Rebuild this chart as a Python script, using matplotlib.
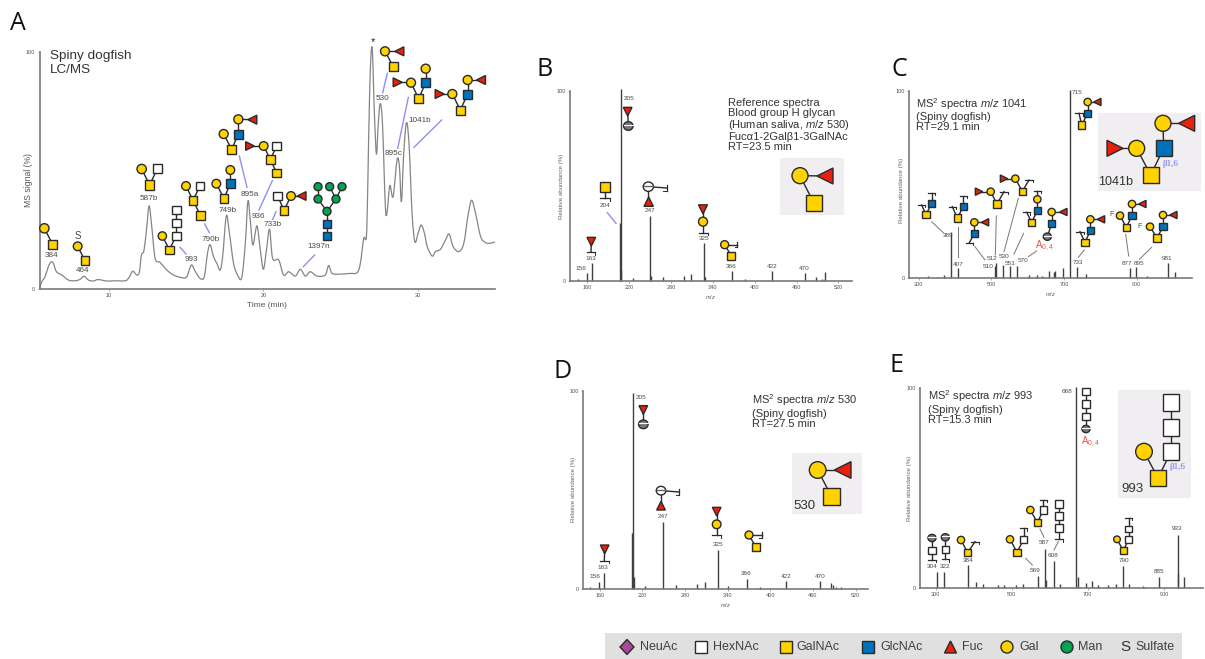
import matplotlib
matplotlib.use("Agg")
import matplotlib.pyplot as plt
from matplotlib.patches import Circle, Rectangle, Polygon, Ellipse, PathPatch
from matplotlib.path import Path
from matplotlib.ticker import MultipleLocator

plt.rcParams['font.family'] = ['Liberation Sans', 'DejaVu Sans']
plt.rcParams['mathtext.fontset'] = 'custom'
plt.rcParams['mathtext.rm'] = 'Liberation Sans'
plt.rcParams['mathtext.it'] = 'Liberation Sans:italic'

W, H = 1205, 659

# panel A chromatogram
lc_time = [5.5, 5.65, 5.86, 6.07, 6.25, 6.4, 6.6, 6.95, 7.37, 7.8, 8.13, 8.39, 8.67, 9.0, 9.3, 9.86,
           10.4, 11.05, 11.3, 11.54, 11.8, 11.97, 12.1, 12.27, 12.45, 12.6, 12.77, 12.99, 13.3, 13.75,
           14.18, 14.72, 15.04, 15.33, 15.6, 15.9, 16.17, 16.38, 16.55, 16.77, 16.99, 17.2, 17.36, 17.6,
           17.8, 18.07, 18.33, 18.6, 18.83, 19.0, 19.15, 19.32, 19.58, 19.8, 20.0, 20.2, 20.4, 20.6,
           20.99, 21.31, 21.64, 22.07, 22.39, 22.72, 23.04, 23.47, 24.0, 24.23, 24.45, 24.99, 25.63,
           26.07, 26.28, 26.5, 26.67, 26.76, 26.89, 27.04, 27.19, 27.32, 27.43, 27.56, 27.71, 27.9,
           28.01, 28.19, 28.4, 28.66, 28.81, 28.94, 29.09, 29.27, 29.44, 29.63, 29.81, 30.02, 30.22,
           30.43, 30.61, 30.93, 31.15, 31.47, 31.8, 32.03, 32.29, 32.66, 32.98, 33.24, 33.48, 33.74,
           34.07, 34.39, 34.71, 35.0]
lc_signal = [0.4, 3.2, 5.3, 9.5, 11.5, 10.9, 7.4, 6.0, 3.9, 3.6, 4.2, 5.5, 3.9, 3.5, 4.1, 3.5,
             3.6, 3.6, 5.0, 7.6, 6.0, 7.4, 14.4, 16.5, 26.4, 35.2, 26.4, 13.0, 11.4, 8.1,
             6.0, 4.9, 5.3, 10.2, 7.4, 4.6, 5.3, 15.1, 18.8, 13.7, 10.9, 8.1, 13.7, 30.9,
             23.6, 10.9, 6.0, 5.0, 19.4, 37.2, 29.2, 18.7, 26.7, 16.6, 8.4, 16.6, 25.3, 13.0,
             12.4, 6.0, 7.4, 5.6, 8.4, 5.6, 7.4, 5.6, 6.0, 10.0, 6.7, 6.4, 6.7,
             7.0, 11.0, 21.5, 22.2, 43.3, 85.5, 102.0, 74.0, 57.0, 68.6, 78.2, 70.0, 34.9,
             32.5, 43.7, 39.0, 54.6, 51.7, 37.0, 57.4, 70.3, 60.2, 32.0, 20.0, 23.6, 27.1,
             23.6, 18.0, 14.0, 15.9, 16.9, 20.8, 23.3, 18.0, 15.9, 19.4, 30.6, 37.5, 32.0,
             22.2, 19.7, 19.4, 20.0]

# panel B spectrum
b_mz = [146, 159, 166, 206.5, 207.8, 208.5, 225, 250, 251, 267.7, 297.8, 309, 327.5, 328, 368, 386, 424.6, 472, 488, 496, 501]
b_int = [0.8, 4.4, 9.3, 30.4, 101, 6, 1.4, 34, 2.6, 2, 2.6, 3.7, 20, 2, 5.3, 1, 5.3, 4, 2, 1, 5]

# panel C spectrum
c_mz = [325, 370.6, 388, 407, 510, 512, 531, 551, 571.6, 602, 625, 638.5, 657, 672.5, 676, 698, 716.5, 735, 759.6, 880, 899, 927.5, 985, 1003.7]
c_int = [1.2, 2, 24.9, 5.3, 6.5, 8, 7.1, 6.6, 6.6, 1.8, 1.8, 1.2, 4, 3.6, 4, 5.3, 100.5, 6.2, 2.3, 5.3, 5.9, 1, 8, 3.6]

# panel D spectrum
d_mz = [146, 159, 166, 206, 206.9, 208, 224, 249, 267, 296.4, 308, 326, 340, 366.8, 385.5, 422, 469.4, 485, 487.7, 492, 499]
d_int = [0.8, 3.4, 7.9, 28, 98.7, 6.2, 1.5, 33.6, 2, 2.4, 3.7, 19.7, 1.5, 4.9, 0.8, 4, 4, 3.2, 1.8, 1.2, 1]

# panel E spectrum
e_mz = [303.5, 322, 384, 406, 424, 465, 480, 510.5, 529, 570, 588.6, 590, 610, 628, 669, 673, 695, 712, 728, 754,
        774.6, 793, 807, 846, 888, 936, 938, 954]
e_int = [8, 8, 11.4, 2.7, 1.7, 1.2, 1.5, 1.3, 2, 6, 19.4, 3.8, 13.4, 1.8, 100.8, 5.5, 2.2, 3.3, 1.3, 1.3,
         1.7, 10.9, 1.7, 0.8, 5.5, 26.4, 7, 5.5]

legend_names = ['NeuAc', 'HexNAc', 'GalNAc', 'GlcNAc', 'Fuc', 'Gal', 'Man', 'Sulfate']

YEL, BLU, RED, GRN, PUR = '#ffd200', '#0072bc', '#e8200c', '#00a651', '#a5499c'
EDGE = '#2a2a2a'
TXT = '#4a4a4a'
LAV = '#8f8ff5'
HEAD = 8.0

# crop origins used when reading positions off the picture
Z1, Z2, Z3, Z4, Z5, Z6 = (0, 0), (250, 20), (530, 50), (880, 50), (550, 350), (880, 350)

fig = plt.figure(figsize=(W / 100, H / 100), dpi=100)


def panel(x0, x1, y100, y0, xlim, xticks, minor, ylabel, label_dx, label_y=0.5, xlabel=None):
    ax = fig.add_axes([x0 / W, 1 - y0 / H, (x1 - x0) / W, (y0 - y100) / H])
    ax.patch.set_visible(False)
    ax.set_xlim(*xlim)
    ax.set_ylim(0, 100)
    for s in ['top', 'right']:
        ax.spines[s].set_visible(False)
    for s in ['left', 'bottom']:
        ax.spines[s].set_color('#7a7a7a')
        ax.spines[s].set_linewidth(1.2)
    ax.set_xticks(xticks)
    ax.xaxis.set_minor_locator(MultipleLocator(minor))
    ax.set_yticks([0, 100])
    ax.tick_params(axis='both', which='major', labelsize=4, length=1.5, width=0.4, pad=1.5,
                   color='#666666', labelcolor='#555555')
    ax.tick_params(axis='x', which='minor', length=1, width=0.3, color='#666666')
    ax.set_ylabel(ylabel, fontsize=4.4, color='#666666')
    ax.yaxis.set_label_coords(-label_dx / (x1 - x0), label_y)
    if xlabel:
        ax.set_xlabel(xlabel, fontsize=4, color='#555555', labelpad=2)
    return ax


def spectrum(ax, mz, vals):
    ax.vlines(mz, 0, vals, colors='#404040', lw=1.0, clip_on=False)


def smooth_trace(ax, xs, ys, **kw):
    # curve through the read points, so the trace is not a polyline
    verts = [(xs[0], ys[0])]
    codes = [Path.MOVETO]
    n = len(xs)
    for i in range(n - 1):
        p0 = (xs[max(i - 1, 0)], ys[max(i - 1, 0)])
        p1 = (xs[i], ys[i])
        p2 = (xs[i + 1], ys[i + 1])
        p3 = (xs[min(i + 2, n - 1)], ys[min(i + 2, n - 1)])
        c1 = (p1[0] + (p2[0] - p0[0]) / 6, p1[1] + (p2[1] - p0[1]) / 6)
        c2 = (p2[0] - (p3[0] - p1[0]) / 6, p2[1] - (p3[1] - p1[1]) / 6)
        verts += [c1, c2, p2]
        codes += [Path.CURVE4] * 3
    ax.add_patch(PathPatch(Path(verts, codes), fc='none', clip_on=False, **kw))


ax_a = panel(39.5, 495, 52, 289.3, (5.5, 35.0), [10, 20, 30], 10, 'MS signal (%)', 6.8, 0.46)
ax_a.set_xlabel('Time (min)', fontsize=6, color='#555555', labelpad=2.5)
ax_a.yaxis.label.set_fontsize(6.2)
ax_a.yaxis.label.set_color('#555555')
ax_a.tick_params(axis='x', which='minor', length=0)
smooth_trace(ax_a, lc_time, lc_signal, ec='#858585', lw=0.9)

ax_b = panel(570, 851.7, 91, 281, (135, 539), [160, 220, 280, 340, 400, 460, 520], 20,
             'Relative abundance (%)', 6, xlabel=r'$\mathit{m/z}$')
spectrum(ax_b, b_mz, b_int)

ax_c = panel(909.3, 1191.7, 91, 278.3, (274, 1051), [300, 500, 700, 900], 50,
             'Relative abundance (%)', 5.3, 0.47, xlabel=r'$\mathit{m/z}$')
spectrum(ax_c, c_mz, c_int)

ax_d = panel(582.7, 868.3, 390.7, 589, (136, 538), [160, 220, 280, 340, 400, 460, 520], 20,
             'Relative abundance (%)', 7, xlabel=r'$\mathit{m/z}$')
spectrum(ax_d, d_mz, d_int)

ax_e = panel(920, 1202.7, 388.3, 587.7, (259, 1002), [300, 500, 700, 900], 50, 'Relative abundance (%)', 7.7)
spectrum(ax_e, e_mz, e_int)

# overlay in pixel coordinates for symbols and annotations
ov = fig.add_axes([0, 0, 1, 1], zorder=5)
ov.set_xlim(0, W)
ov.set_ylim(H, 0)
ov.axis('off')
ov.patch.set_visible(False)


def sym(kind, x, y, s):
    r = s / 2
    lw = 1.0
    if kind in 'ABH':
        col = {'A': YEL, 'B': BLU, 'H': 'white'}[kind]
        ov.add_patch(Rectangle((x - r, y - r), s, s, fc=col, ec=EDGE, lw=lw, zorder=3))
    elif kind in 'GM':
        col = YEL if kind == 'G' else GRN
        ov.add_patch(Circle((x, y), r, fc=col, ec=EDGE, lw=lw, zorder=3))
    elif kind in ('FL', 'FR', 'FU', 'FD'):
        pts = {'FL': [(-r, 0), (r, -r), (r, r)], 'FR': [(r, 0), (-r, -r), (-r, r)],
               'FU': [(0, -r), (-r, r), (r, r)], 'FD': [(0, r), (-r, -r), (r, -r)]}[kind]
        ov.add_patch(Polygon([(x + a, y + b) for a, b in pts], fc=RED, ec=EDGE, lw=lw, zorder=3))
    elif kind == 'X':
        ov.add_patch(Ellipse((x, y), s * 1.1, s, fc='#777777', ec=EDGE, lw=lw, zorder=3))
        ov.plot([x - r, x + r], [y - r * 0.3, y - r * 0.3], color='white', lw=0.8, zorder=4)
    elif kind == 'W':
        ov.add_patch(Ellipse((x, y), s * 1.1, s, fc='white', ec=EDGE, lw=lw, zorder=3))
        ov.plot([x - r, x + r], [y - r * 0.2, y - r * 0.2], color='#666666', lw=1.0, zorder=4)
    elif kind == 'T':
        # cleavage mark, stem ends in a bar
        ov.plot([x - r, x + r], [y, y], color=EDGE, lw=0.9, zorder=3)
        ov.plot([x + r, x + r], [y, y + r * 0.6], color=EDGE, lw=0.7, zorder=3)
    elif kind == 'J':
        ov.plot([x, x], [y - r * 0.7, y + r * 0.7], color=EDGE, lw=0.9, zorder=3)
        ov.plot([x - r * 0.7, x], [y + r * 0.7, y + r * 0.7], color=EDGE, lw=0.7, zorder=3)


def glycan(z, size, nodes, links=()):
    pts = [(z[0] + x / 3, z[1] + y / 3) for _, x, y in nodes]
    for i, j in links:
        ov.plot([pts[i][0], pts[j][0]], [pts[i][1], pts[j][1]], color=EDGE, lw=1.0, zorder=2)
    for (kind, _, _), (x, y) in zip(nodes, pts):
        sym(kind, x, y, size / 3)


def lab(z, x, y, s, size=5.9, color=TXT, **kw):
    kw.setdefault('ha', 'center')
    ov.text(z[0] + x / 3, z[1] + y / 3, s, fontsize=size, color=color, va='center', zorder=6, **kw)


def seg(z, x0, y0, x1, y1, color=LAV, lw=1.0):
    ov.plot([z[0] + x0 / 3, z[0] + x1 / 3], [z[1] + y0 / 3, z[1] + y1 / 3], color=color, lw=lw, zorder=2)


def box(z, x0, y0, x1, y1):
    ov.add_patch(Rectangle((z[0] + x0 / 3, z[1] + y0 / 3), (x1 - x0) / 3, (y1 - y0) / 3,
                           fc='#f0eef0', ec='none', zorder=1))


def head(z, x, y_first, y_rest, first, rest):
    # the line with m/z has taller metrics, so it sits apart from the plain lines
    lab(z, x, y_first, first, size=HEAD, color='#333333', ha='left')
    lab(z, x, y_rest, rest, size=HEAD, color='#333333', ha='left', linespacing=1.0)


# panel letters
for s, x, y in [('A', 18, 23), ('B', 545, 70), ('C', 899, 70), ('D', 563, 371), ('E', 897, 365)]:
    ov.text(x, y, s, fontsize=18, color='#111111', ha='center', va='center', family=['Open Sans', 'DejaVu Sans'])

# panel A
ov.text(50, 63, 'Spiny dogfish\nLC/MS', fontsize=9.7, color='#333333', va='center', linespacing=1.25)
glycan(Z1, 28, [('G', 133, 685), ('A', 158, 733)], [(0, 1)])
lab(Z1, 155, 766, '384')
glycan(Z1, 26, [('G', 233, 739), ('A', 255, 782)], [(0, 1)])
lab(Z1, 232, 708, 'S', size=7)
lab(Z1, 249, 813, '464')
glycan(Z1, 28, [('G', 425, 507), ('H', 472, 506), ('A', 449, 555)], [(0, 2), (1, 2)])
lab(Z1, 447, 595, '587b')
glycan(Z1, 25, [('G', 487, 708), ('A', 508, 749), ('H', 529, 707), ('H', 529, 668), ('H', 529, 629)],
       [(0, 1), (1, 2), (2, 3), (3, 4)])
lab(Z1, 575, 778, '993')
seg(Z1, 540, 742, 558, 762)
glycan(Z1, 26, [('G', 558, 558), ('H', 600, 558), ('A', 579, 601), ('A', 601, 646)],
       [(0, 2), (1, 2), (2, 3)])
lab(Z1, 631, 718, '790b')
seg(Z1, 614, 672, 628, 698)
glycan(Z1, 26, [('G', 649, 551), ('B', 691, 550), ('G', 691, 510), ('A', 672, 596)],
       [(0, 3), (1, 3), (1, 2)])
lab(Z1, 683, 632, '749b')
glycan(Z1, 27, [('G', 715, 358), ('FL', 757, 359), ('B', 715, 402), ('G', 671, 402), ('A', 695, 448)],
       [(0, 1), (0, 2), (2, 4), (3, 4)])
lab(Z1, 750, 584, '895a')
seg(Z1, 718, 468, 741, 562)
glycan(Z2, 26, [('FR', 0, 378), ('G', 41, 378), ('H', 80, 378), ('A', 61, 418), ('A', 80, 459)],
       [(0, 1), (1, 3), (2, 3), (3, 4)])
lab(Z2, 25, 589, '936')
seg(Z2, 67, 482, 27, 570)
glycan(Z2, 26, [('H', 83, 528), ('G', 123, 528), ('FL', 155, 528), ('A', 102, 571)],
       [(1, 2), (0, 3), (1, 3)])
lab(Z2, 68, 614, '733b')
seg(Z2, 78, 575, 68, 598)
glycan(Z2, 24, [('M', 204, 500), ('M', 239, 500), ('M', 276, 500), ('M', 204, 537), ('M', 258, 537),
                ('M', 231, 574), ('B', 231, 611), ('B', 231, 648)],
       [(0, 3), (3, 5), (1, 4), (2, 4), (4, 5), (5, 6), (6, 7)])
lab(Z2, 207, 680, '1397n')
seg(Z2, 160, 740, 194, 705)
glycan(Z2, 27, [('G', 405, 94), ('FL', 448, 94), ('A', 430, 140)], [(0, 1), (0, 2)])
lab(Z2, 398, 235, '530')
seg(Z2, 412, 160, 398, 218)
glycan(Z2, 27, [('FR', 443, 187), ('G', 483, 188), ('B', 527, 188), ('G', 527, 146), ('A', 506, 236)],
       [(0, 1), (1, 4), (2, 4), (2, 3)])
lab(Z2, 431, 400, '895c')
seg(Z2, 475, 232, 443, 385)
glycan(Z2, 27, [('FR', 569, 222), ('G', 607, 222), ('B', 653, 222), ('G', 653, 180), ('FL', 693, 180), ('A', 631, 270)],
       [(0, 1), (1, 5), (2, 5), (2, 3), (3, 4)])
lab(Z2, 510, 302, '1041b')
seg(Z2, 575, 300, 492, 382)
lab(Z2, 369, 66, '*', size=8, color='#222222')

# panel B
lab(Z3, 593, 174, 'Reference spectra\nBlood group H glycan', size=HEAD, color='#333333', ha='left', linespacing=1.0)
lab(Z3, 593, 226, r'(Human saliva, $\mathit{m/z}$ 530)', size=HEAD, color='#333333', ha='left')
lab(Z3, 593, 277, 'Fucα1-2Galβ1-3GalNAc\nRT=23.5 min', size=HEAD, color='#333333', ha='left', linespacing=1.0)
box(Z3, 750, 325, 942, 495)
glycan(Z3, 48, [('G', 810, 377), ('FL', 885, 378), ('A', 851, 458)], [(0, 1), (0, 2)])
lab(Z3, 296, 144, '205', size=4.6)
glycan(Z3, 26, [('FD', 293, 185), ('X', 295, 228)], [(0, 1)])
glycan(Z3, 30, [('A', 225, 412), ('T', 225, 445)], [(0, 1)])
lab(Z3, 224, 467, '204', size=4.6)
seg(Z3, 232, 488, 258, 520)
glycan(Z3, 26, [('FD', 184, 575), ('T', 183, 606)], [(0, 1)])
lab(Z3, 182, 627, '163', size=4.6)
lab(Z3, 154, 655, '156', size=4.6)
glycan(Z3, 28, [('W', 355, 410), ('J', 410, 414), ('FU', 356, 455)], [(0, 1), (0, 2)])
lab(Z3, 360, 483, '247', size=4.6)
glycan(Z3, 27, [('FD', 519, 478), ('G', 519, 515), ('T', 519, 548)], [(0, 1), (1, 2)])
lab(Z3, 522, 565, '325', size=4.6)
glycan(Z3, 24, [('G', 584, 584), ('J', 622, 584), ('A', 604, 618)], [(0, 1), (0, 2)])
lab(Z3, 605, 648, '366', size=4.6)
lab(Z3, 725, 650, '422', size=4.6)
lab(Z3, 823, 654, '470', size=4.6)

# panel C
head(Z4, 108, 161, 215, r'MS$^{\mathregular{2}}$ spectra $\mathit{m/z}$ 1041', '(Spiny dogfish)\nRT=29.1 min')
box(Z4, 653, 190, 962, 423)
glycan(Z4, 48, [('G', 849, 220), ('FL', 920, 220), ('B', 851, 295), ('G', 770, 295), ('FR', 705, 295), ('A', 812, 375)],
       [(0, 1), (0, 2), (2, 5), (3, 5), (3, 4)])
lab(Z4, 872, 343, 'β1,6', size=6.5, color='#6a6af0', family=['Liberation Serif'])
lab(Z4, 706, 397, '1041b', size=9, color='#333333')
for s, x, y in [('715', 592, 127), ('389', 203, 556), ('407', 234, 645), ('510', 323, 650), ('512', 335, 627),
                ('530', 372, 620), ('551', 390, 640), ('570', 428, 633), ('733', 595, 637), ('877', 742, 640),
                ('895', 778, 640), ('981', 862, 627)]:
    lab(Z4, x, y, s, size=4.6)
lab(Z4, 495, 587, r'A$_{\mathregular{0,4}}$', size=7, color='#f05050')
glycan(Z4, 22, [('G', 623, 156), ('FL', 652, 156), ('B', 623, 190), ('T', 597, 190), ('A', 605, 225)],
       [(0, 1), (0, 2), (2, 4), (3, 4)])
glycan(Z4, 22, [('T', 125, 465), ('B', 155, 460), ('T', 155, 428), ('A', 138, 494)], [(0, 3), (1, 3), (1, 2)])
glycan(Z4, 22, [('T', 217, 470), ('B', 250, 470), ('T', 250, 437), ('A', 232, 504)], [(0, 3), (1, 3), (1, 2)])
glycan(Z4, 22, [('G', 283, 517), ('FL', 315, 517), ('B', 283, 551), ('T', 268, 578)], [(0, 1), (0, 2), (2, 3)])
glycan(Z4, 22, [('FR', 297, 425), ('G', 332, 425), ('T', 372, 425), ('A', 351, 462)], [(0, 1), (1, 3), (2, 3)])
glycan(Z4, 22, [('FR', 372, 386), ('G', 406, 386), ('T', 447, 390), ('A', 427, 424)], [(0, 1), (1, 3), (2, 3)])
glycan(Z4, 22, [('T', 440, 487), ('B', 472, 482), ('G', 472, 448), ('T', 472, 422), ('A', 455, 517)],
       [(0, 4), (1, 4), (1, 2), (2, 3)])
glycan(Z4, 22, [('G', 515, 486), ('FL', 550, 486), ('B', 515, 521), ('X', 502, 560)], [(0, 1), (0, 2), (2, 3)])
glycan(Z4, 22, [('T', 600, 545), ('G', 631, 508), ('FL', 663, 508), ('B', 631, 542), ('A', 615, 577)],
       [(1, 2), (1, 3), (3, 4), (0, 4)])
glycan(Z4, 22, [('G', 720, 497), ('A', 739, 532), ('B', 756, 497), ('G', 756, 462), ('FL', 787, 462)],
       [(0, 1), (1, 2), (2, 3), (3, 4)])
lab(Z4, 695, 495, 'F', size=5)
glycan(Z4, 22, [('G', 810, 530), ('A', 831, 564), ('B', 849, 530), ('G', 849, 495), ('FL', 880, 495)],
       [(0, 1), (1, 2), (2, 3), (3, 4)])
lab(Z4, 780, 528, 'F', size=5)
for x0, y0, x1, y1 in [(155, 515, 190, 548), (233, 530, 233, 622), (285, 590, 315, 630), (349, 498, 346, 615),
                       (415, 445, 372, 605), (431, 550, 402, 612), (470, 603, 445, 620), (613, 600, 595, 622),
                       (737, 553, 746, 618), (815, 592, 778, 628)]:
    seg(Z4, x0, y0, x1, y1, color='#777777', lw=0.7)

# panel D
head(Z5, 607, 151, 207, r'MS$^{\mathregular{2}}$ spectra $\mathit{m/z}$ 530', '(Spiny dogfish)\nRT=27.5 min')
box(Z5, 725, 308, 936, 492)
glycan(Z5, 50, [('G', 803, 360), ('FL', 878, 360), ('A', 845, 440)], [(0, 1), (0, 2)])
lab(Z5, 764, 467, '530', size=9.5, color='#333333')
glycan(Z5, 26, [('FD', 280, 180), ('X', 280, 223)], [(0, 1)])
lab(Z5, 273, 142, '205', size=4.6)
glycan(Z5, 26, [('FD', 164, 598), ('T', 163, 632)], [(0, 1)])
lab(Z5, 160, 652, '163', size=4.6)
lab(Z5, 134, 681, '156', size=4.6)
glycan(Z5, 26, [('W', 333, 422), ('J', 388, 426), ('FU', 333, 467)], [(0, 1), (0, 2)])
lab(Z5, 338, 500, '247', size=4.6)
glycan(Z5, 26, [('FD', 500, 485), ('G', 500, 523), ('T', 500, 556)], [(0, 1), (1, 2)])
lab(Z5, 505, 583, '325', size=4.6)
glycan(Z5, 24, [('G', 597, 555), ('J', 636, 555), ('A', 618, 592)], [(0, 1), (0, 2)])
lab(Z5, 589, 671, '366', size=4.6)
lab(Z5, 707, 680, '422', size=4.6)
lab(Z5, 810, 680, '470', size=4.6)

# panel E
head(Z6, 145, 138, 194, r'MS$^{\mathregular{2}}$ spectra $\mathit{m/z}$ 993', '(Spiny dogfish)\nRT=15.3 min')
box(Z6, 714, 120, 932, 445)
glycan(Z6, 50, [('H', 873, 158), ('H', 873, 232), ('H', 873, 305), ('G', 792, 305), ('A', 834, 384)],
       [(0, 1), (1, 2), (2, 4), (3, 4)])
lab(Z6, 893, 350, 'β1,6', size=6.5, color='#6a6af0', family=['Liberation Serif'])
lab(Z6, 757, 417, '993', size=9.5, color='#333333')
for s, x, y in [('668', 562, 124), ('304', 158, 649), ('322', 195, 650), ('384', 263, 633), ('569', 464, 662),
                ('587', 493, 578), ('608', 519, 617), ('790', 731, 630), ('885', 837, 664), ('933', 892, 534)]:
    lab(Z6, x, y, s, size=4.6)
glycan(Z6, 22, [('H', 618, 125), ('H', 618, 162), ('H', 618, 199), ('X', 618, 237)], [(0, 1), (1, 2), (2, 3)])
lab(Z6, 632, 277, r'A$_{\mathregular{0,4}}$', size=7, color='#f05050')
glycan(Z6, 22, [('X', 156, 564), ('H', 156, 602), ('T', 156, 630)], [(0, 1), (1, 2)])
glycan(Z6, 22, [('X', 196, 562), ('H', 196, 599), ('T', 196, 628)], [(0, 1), (1, 2)])
glycan(Z6, 22, [('G', 243, 570), ('T', 285, 575), ('A', 263, 608)], [(0, 2), (1, 2)])
glycan(Z6, 22, [('G', 390, 568), ('H', 431, 568), ('T', 431, 535), ('A', 411, 607)], [(0, 3), (1, 3), (1, 2)])
seg(Z6, 437, 625, 457, 645, color='#777777', lw=0.7)
glycan(Z6, 22, [('G', 451, 480), ('H', 490, 480), ('T', 490, 450), ('A', 472, 518)], [(0, 3), (1, 3), (1, 2)])
seg(Z6, 480, 537, 492, 562, color='#777777', lw=0.7)
glycan(Z6, 24, [('H', 538, 463), ('H', 538, 498), ('H', 538, 533), ('T', 538, 568)], [(0, 1), (1, 2), (2, 3)])
seg(Z6, 535, 575, 522, 600, color='#777777', lw=0.7)
glycan(Z6, 20, [('G', 711, 568), ('A', 730, 602), ('H', 746, 568), ('H', 746, 537), ('T', 746, 505)],
       [(0, 1), (1, 2), (2, 3), (3, 4)])

# legend strip along the bottom edge
ov.add_patch(Rectangle((605, 633), 577, 26, fc='#e0e0e0', ec='none', zorder=1))
ly = 647
marks = [('D', 627), ('H', 700.5), ('A', 785.5), ('B', 868), ('FU', 950.5), ('G', 1007), ('M', 1067)]
for kind, x in marks:
    if kind == 'D':
        ov.add_patch(Polygon([(x, ly - 7.5), (x + 7, ly), (x, ly + 7.5), (x - 7, ly)], fc=PUR, ec=EDGE, lw=1.0, zorder=3))
    else:
        sym(kind, x, ly, 12)
ov.text(1125.5, ly, 'S', fontsize=11, color='#333333', ha='center', va='center', zorder=4)
for name, x in zip(legend_names, [640, 713.5, 796, 880, 962, 1019, 1078, 1135]):
    ov.text(x, ly, name, fontsize=9, color='#404040', ha='left', va='center', zorder=4)

fig.savefig('out.png', dpi=100)
